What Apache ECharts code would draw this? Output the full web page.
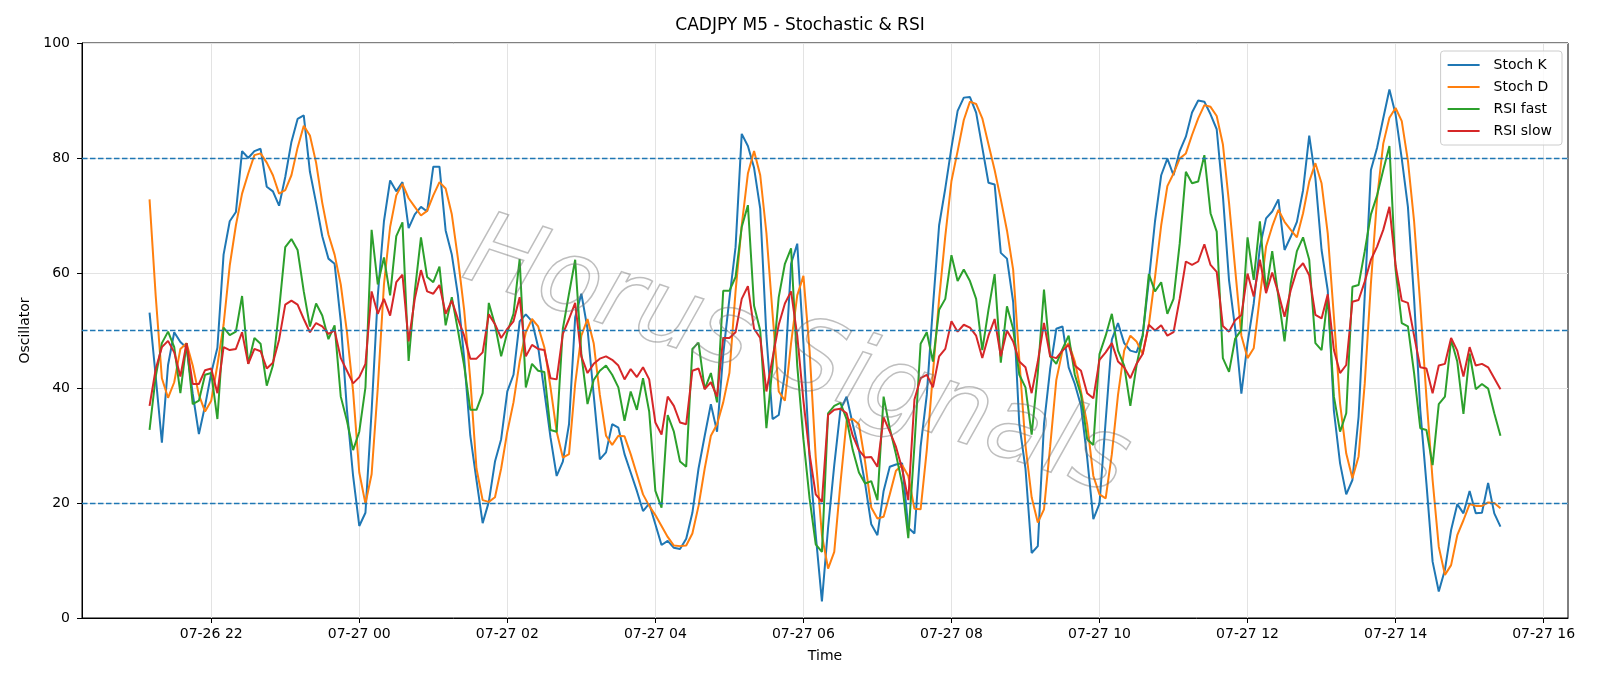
<!DOCTYPE html>
<html>
<head>
<meta charset="utf-8">
<script src="https://cdn.jsdelivr.net/npm/echarts@6/dist/echarts.min.js"></script>
<style>
  html, body { margin: 0; padding: 0; background: #fff; }
  #main { width: 1600px; height: 686px; }
</style>
</head>
<body>
<div id="main"></div>
<script>
// CADJPY M5, 5 minute bars starting 07-26 21:10
const startHour = 21 + 10 / 60;   // hours since 07-26 00:00
const stepHour = 5 / 60;

const stochK = [
  53.1, 42, 30.5, 44, 49.7, 48, 47, 39, 32, 36.9,
  42.6, 47, 63.2, 69, 70.6, 81.2, 80, 81.2, 81.6, 75,
  74.2, 71.7, 76.7, 82.8, 86.8, 87.4, 77.6, 72.2, 66.4, 62.5,
  61.6, 51.6, 36.2, 24.7, 16, 18.3, 36, 56, 69, 76.1,
  74.2, 75.8, 67.8, 70.2, 71.5, 70.7, 78.5, 78.5, 67.4, 63.2,
  56.1, 45.2, 31.7, 24, 16.5, 20.2, 27.2, 31.1, 39.4, 42.3,
  51.6, 52.8, 51.6, 47.1, 39.4, 31.4, 24.7, 27.2, 33.7, 52.3,
  56.4, 50.3, 38.8, 27.6, 28.8, 33.7, 33.1, 28.5, 25.3, 22.1,
  18.6, 19.9, 16.3, 12.7, 13.4, 12.2, 12, 13.8, 18.3, 26,
  31.7, 37.2, 32.4, 45.9, 55.5, 64.5, 84.2, 82.1, 78.3, 71.2,
  49.1, 34.6, 35.3, 42.6, 61.6, 65.1, 47.8, 27.9, 14.4, 2.9,
  15.7, 26.6, 36.2, 38.5, 33.7, 29.2, 23.4, 16.3, 14.4, 22.1,
  26.3, 26.7, 26.9, 15.7, 14.7, 29.8, 38.8, 54.2, 68.3, 74.7,
  81.8, 88.2, 90.5, 90.6, 87.9, 81.8, 75.7, 75.4, 63.5, 62.5,
  55, 33.7, 26, 11.3, 12.5, 33.7, 43.3, 50.3, 50.7, 43.6,
  40.7, 36.9, 27.9, 17.2, 19.9, 34.3, 48.4, 51.3, 47.8, 46.5,
  46.2, 49.1, 58.7, 69, 77, 79.9, 77, 81.2, 83.7, 87.9,
  90, 89.8, 87.6, 85, 73.5, 58.7, 50.3, 39, 47.8, 54.7,
  64.5, 69.5, 70.7, 72.8, 64, 66.3, 68.9, 74.4, 83.9, 76.5,
  64, 57, 36, 26.9, 21.5, 24, 35, 56.1, 77.9, 81.8,
  86.9, 91.9, 87.6, 79.9, 71.5, 55.5, 36.2, 23.4, 9.8, 4.6,
  8.4, 15.3, 19.8, 18.2, 22.1, 18.2, 18.3, 23.5, 18.2, 15.9
];

const stochD = [
  72.8, 56, 41.7, 38.3, 41, 46.8, 47.8, 43.9, 38.8, 35.9,
  37.8, 44, 51, 61.3, 68.3, 73.8, 77.3, 80.5, 80.8, 79.2,
  77, 73.8, 74.4, 77, 81.8, 85.6, 83.9, 79.2, 72.2, 66.7,
  63.2, 58, 49.7, 39.4, 25.3, 19.9, 25, 40, 58, 68,
  73.5, 75.5, 73, 71.5, 70, 70.8, 73.5, 75.8, 74.7, 70.2,
  62.5, 53.6, 41.4, 26, 20.5, 20.2, 21, 26, 32.4, 37.5,
  44.6, 49.7, 52, 50.7, 47.1, 40.1, 32.4, 27.9, 28.5, 40.7,
  49.1, 52, 47.8, 38.8, 31.7, 30.1, 31.7, 31.6, 28.5, 25,
  21.5, 19.5, 17.9, 16, 14.1, 12.6, 12.5, 12.6, 14.7, 19.5,
  26, 31.7, 33.7, 37.5, 42.6, 56.8, 68.3, 77.3, 81.2, 77,
  67, 52.9, 39.4, 37.8, 47.8, 56.1, 59.5, 46.5, 27.9, 14.4,
  8.6, 11.5, 23.4, 34.3, 34.6, 33.7, 27.2, 19.2, 17.3, 17.6,
  21.5, 25.6, 26.6, 24.7, 19, 18.9, 29.2, 42.6, 55.5, 66.4,
  76, 81.2, 86.6, 89.8, 89.4, 86.9, 82.4, 77.9, 72.8, 67.4,
  60.6, 45, 30, 21, 16.6, 18.9, 29.8, 41.4, 46.5, 47.8,
  44.6, 39.4, 33.7, 24.7, 21.5, 20.8, 28.5, 38.8, 46.5, 49.1,
  48.1, 45.9, 51, 59.3, 68.3, 75.1, 77.3, 79.9, 80.8, 84,
  86.9, 89.2, 88.9, 87.3, 82.4, 72.2, 60.6, 49.1, 45.2, 46.9,
  55.9, 64.6, 68.1, 71, 68.9, 67.5, 66.2, 70.4, 75.9, 79.1,
  75.6, 66.9, 52.4, 37.3, 28.6, 24.3, 28.1, 40.8, 58.2, 73,
  82.5, 87, 88.7, 86.4, 79.5, 69, 54.5, 38.4, 24, 12.4,
  7.5, 9.2, 14.4, 17, 19.8, 19.5, 19.5, 20.1, 20, 19.1
];

const rsiFast = [
  32.7, 42, 47.8, 49.8, 47.1, 39.1, 47.8, 37.2, 37.8, 42.3,
  42.6, 34.6, 50.5, 49.2, 49.8, 56, 44.2, 48.7, 47.7, 40.4,
  43.9, 53.6, 64.5, 65.9, 64, 56.8, 50.7, 54.7, 52.6, 48.5,
  50.9, 38.5, 34.3, 29.2, 32.4, 40.1, 67.5, 58, 62.7, 56.1,
  66.4, 68.8, 44.7, 56.8, 66.2, 59.3, 58.4, 61.1, 50.9, 55.8,
  50, 43.9, 36.2, 36.2, 39.1, 54.8, 51, 45.5, 49.7, 52.9,
  62.4, 40.1, 44.2, 43, 42.8, 32.7, 32.4, 50.3, 56.4, 62.3,
  45.9, 37.2, 41.4, 43, 43.9, 42.3, 40.1, 34.3, 39.4, 36.2,
  41.7, 35.9, 22.1, 19.2, 35.3, 32.4, 27.2, 26.3, 46.8, 47.9,
  39.8, 42.6, 37.5, 56.9, 56.9, 59.3, 68, 71.8, 54.3, 50,
  33, 43.9, 55.8, 61.6, 64.3, 43.9, 31.1, 20.8, 12.8, 11.5,
  35.6, 36.9, 37.4, 34.6, 29.2, 25.3, 23.4, 23.8, 20.5, 38.5,
  33, 28.5, 23.4, 13.9, 30, 47.7, 49.7, 44.6, 53.6, 55.5,
  63.1, 58.6, 60.6, 58.6, 55.5, 46.6, 53.6, 59.8, 44.4, 54.2,
  50.3, 42.3, 40.1, 31.9, 42.6, 57.1, 45.5, 44.2, 46.8, 49.1,
  42.3, 38.8, 31.1, 30.1, 45.9, 49.1, 52.9, 46.5, 43.9, 36.9,
  43.9, 49.1, 59.8, 56.8, 58.4, 52.9, 55.5, 65.1, 77.6, 75.6,
  75.9, 80.5, 70.4, 67.2, 45.2, 42.8, 48.6, 50.1, 66.2, 58.8,
  69, 56.8, 63.8, 55.9, 48.1, 58.2, 63.8, 66.2, 62.3, 47.8,
  46.6, 55.9, 38.5, 32.4, 35.6, 57.6, 57.9, 63.8, 70.2, 73.5,
  77.9, 82.1, 60.6, 51.3, 50.7, 42.6, 33, 32.7, 26.6, 37.2,
  38.5, 48.4, 44.6, 35.5, 46, 39.8, 40.7, 39.9, 35.6, 31.7
];

const rsiSlow = [
  36.9, 43.3, 47.1, 48.2, 46.2, 42, 47.8, 40.7, 40.7, 43.1,
  43.4, 39.1, 47.1, 46.6, 46.8, 49.7, 44.2, 46.8, 46.4, 43.4,
  44.4, 48.4, 54.5, 55.2, 54.5, 52, 49.7, 51.3, 50.7, 49.4,
  50, 45.2, 43, 40.8, 41.9, 44.2, 56.8, 52.9, 55.5, 52.6,
  58.4, 59.7, 48.1, 55.5, 60.5, 56.8, 56.4, 57.9, 52.9, 55.2,
  52, 49.1, 45.1, 45.1, 46.2, 52.8, 51.1, 48.7, 50.3, 51.6,
  55.8, 45.5, 47.5, 46.8, 46.6, 41.7, 41.5, 49.4, 52, 54.8,
  45.5, 42.6, 44.2, 45.1, 45.5, 44.9, 43.9, 41.5, 43.3, 41.9,
  43.6, 41.5, 34, 31.9, 38.5, 36.9, 34, 33.7, 43, 43.4,
  39.8, 41, 38.5, 48.7, 48.7, 49.7, 55.5, 57.7, 50.3, 48.7,
  39.4, 45.2, 51, 54.7, 56.8, 49.1, 37.8, 28.5, 21.5, 20.2,
  35.3, 36.2, 36.4, 35.6, 31.7, 29.2, 27.9, 28, 26.3, 34.9,
  32.4, 29.8, 26, 20.5, 38, 41.7, 42.3, 40.1, 45.5, 46.8,
  51.6, 49.8, 51, 50.5, 49.1, 45.2, 49.1, 52, 45.5, 50,
  48.1, 44.6, 43.6, 39.1, 44.6, 51.3, 45.5, 45.2, 46.5, 47.5,
  43.9, 43, 39.1, 38.2, 44.9, 46.2, 47.8, 44.6, 43.6, 41.7,
  44.2, 45.9, 51, 50, 50.9, 49.1, 49.7, 55.5, 62, 61.4,
  62, 65, 61.4, 60.2, 50.8, 49.8, 51.8, 52.7, 59.9, 55.9,
  62.3, 56.5, 60.1, 56.5, 52.4, 57, 60.5, 61.7, 59.6, 52.7,
  52.1, 56.3, 46.6, 42.6, 44, 55, 55.3, 58.5, 62.3, 64.6,
  67.5, 71.5, 61.3, 55.2, 54.8, 49.1, 43.6, 43.4, 39.1, 43.9,
  44.2, 48.7, 46.5, 42, 47.1, 43.9, 44.2, 43.6, 41.7, 39.8
];

const levels = [20, 50, 80];
const xTicks = [22, 24, 26, 28, 30, 32, 34, 36, 38, 40];  // hours since 07-26 00:00

// matplotlib style 5% x margins
const endHour = startHour + (stochK.length - 1) * stepHour;
const pad = (endHour - startHour) * 0.05;

function pairs(arr) {
  return arr.map((v, i) => [startHour + i * stepHour, v]);
}

function tickLabel(h) {
  const day = h >= 24 ? '07-27' : '07-26';
  const hh = Math.round(h) % 24;
  return day + ' ' + (hh < 10 ? '0' : '') + hh;
}

const font = 'DejaVu Sans';
const chart = echarts.init(document.getElementById('main'));

function lineSeries(name, data, color) {
  return {
    name: name,
    type: 'line',
    data: pairs(data),
    symbol: 'none',
    lineStyle: { color: color, width: 2 },
    itemStyle: { color: color },
    z: 3
  };
}

chart.setOption({
  animation: false,
  textStyle: { fontFamily: font },
  title: {
    text: 'CADJPY M5 - Stochastic & RSI',
    left: 'center',
    top: 17,
    padding: 0,
    textStyle: { fontFamily: font, fontSize: 17, fontWeight: 'normal', color: '#000' }
  },
  grid: {
    left: 82, right: 32, top: 43, bottom: 68,
    show: true, borderColor: '#000', borderWidth: 1
  },
  legend: {
    data: ['Stoch K', 'Stoch D', 'RSI fast', 'RSI slow'],
    orient: 'vertical',
    right: 38,
    top: 51,
    padding: [6, 10, 6, 7],
    itemGap: 6,
    itemWidth: 32,
    itemHeight: 2,
    icon: 'rect',
    backgroundColor: 'rgba(255,255,255,0.8)',
    borderColor: '#cccccc',
    borderWidth: 1,
    borderRadius: 3,
    textStyle: { fontFamily: font, fontSize: 14, color: '#000', lineHeight: 16, padding: [0, 0, 0, 9] }
  },
  xAxis: {
    type: 'value',
    min: startHour - pad,
    max: endHour + pad,
    name: 'Time',
    nameLocation: 'middle',
    nameGap: 31,
    nameTextStyle: { fontFamily: font, fontSize: 14, color: '#000' },
    axisLine: { show: true, lineStyle: { color: '#000', width: 1 } },
    axisTick: { show: true, length: 5, lineStyle: { color: '#000' }, customValues: xTicks },
    axisLabel: {
      customValues: xTicks,
      formatter: tickLabel,
      fontFamily: font, fontSize: 14, color: '#000', margin: 9,
      hideOverlap: false
    },
    splitLine: { show: true, lineStyle: { color: '#e3e3e3', width: 1 } }
  },
  yAxis: {
    type: 'value',
    min: 0,
    max: 100,
    interval: 20,
    name: 'Oscillator',
    nameLocation: 'middle',
    nameGap: 50,
    nameTextStyle: { fontFamily: font, fontSize: 14, color: '#000' },
    axisLine: { show: true, lineStyle: { color: '#000', width: 1 } },
    axisTick: { show: true, length: 5, lineStyle: { color: '#000' } },
    axisLabel: { fontFamily: font, fontSize: 14, color: '#000', margin: 12 },
    splitLine: { show: true, lineStyle: { color: '#e3e3e3', width: 1 } }
  },
  graphic: [{
    type: 'text',
    x: 796,
    y: 360,
    rotation: -0.32,
    z: 100,
    silent: true,
    style: {
      text: 'Horus Signals',
      font: 'italic 200 101px "DejaVu Sans"',
      fill: 'rgba(255,255,255,0)',
      stroke: 'rgba(110,110,110,0.45)',
      lineWidth: 1.5,
      align: 'center',
      verticalAlign: 'middle'
    }
  }],
  series: [
    lineSeries('Stoch K', stochK, '#1f77b4'),
    lineSeries('Stoch D', stochD, '#ff7f0e'),
    lineSeries('RSI fast', rsiFast, '#2ca02c'),
    lineSeries('RSI slow', rsiSlow, '#d62728'),
    {
      name: 'levels',
      type: 'line',
      data: [],
      z: 4,
      markLine: {
        silent: true,
        symbol: 'none',
        label: { show: false },
        lineStyle: { color: '#1f77b4', type: [5.5, 2.5], width: 1.3 },
        data: levels.map(v => ({ yAxis: v }))
      }
    }
  ]
});
</script>
</body>
</html>
